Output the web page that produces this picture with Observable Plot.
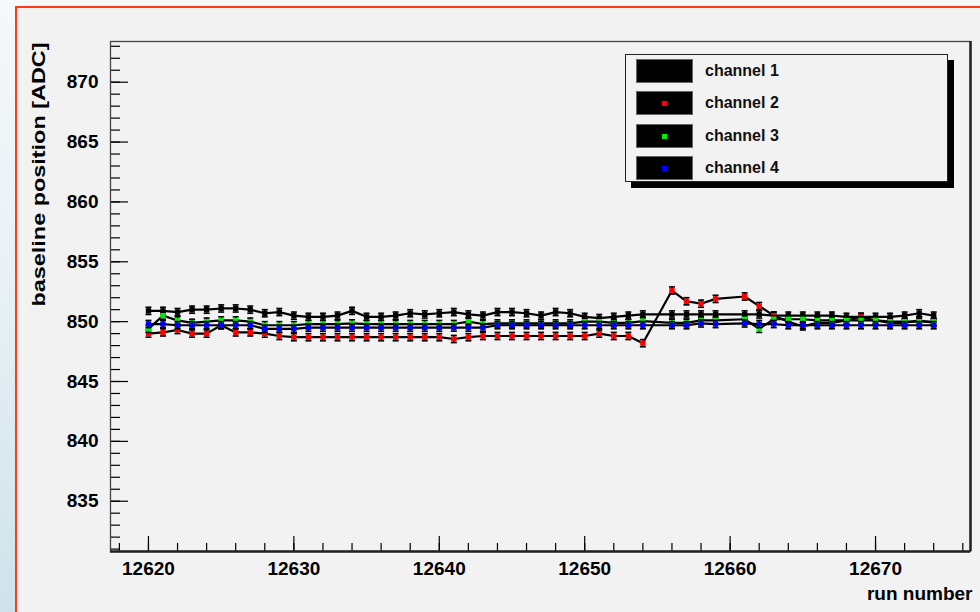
<!DOCTYPE html>
<html>
<head>
<meta charset="utf-8">
<script src="https://cdn.jsdelivr.net/npm/d3@7"></script>
<script src="https://cdn.jsdelivr.net/npm/@observablehq/plot@0.6"></script>
<style>
  html, body { margin: 0; padding: 0; }
  body { width: 980px; height: 612px; overflow: hidden; background: #f2f2f2;
         font-family: "Liberation Sans", Arial, sans-serif; }
  #page { position: relative; width: 980px; height: 612px; }
  #edge { position: absolute; left: 0; top: 0; width: 15px; height: 612px;
          background: linear-gradient(#f6f8fa, #e9f1f5 45%, #cfe2ea); }
  #topedge { position: absolute; left: 0; top: 0; width: 980px; height: 6px; background: #f7f8f9; }
  #border { position: absolute; left: 15px; top: 6px; width: 970px; height: 620px; box-sizing: border-box;
            border-left: 2px solid #ff3a1a; border-top: 2px solid #ff3a1a; }
  #chart { position: absolute; left: 0; top: 0; }
  #legend { position: absolute; left: 625px; top: 54px; width: 323px; height: 128px; box-sizing: border-box;
            border: 1.5px solid #222; background: #f2f2f2; box-shadow: 6px 6px 0 #000; }
  .row { position: absolute; left: 10px; height: 24px; display: flex; align-items: center; }
  .swatch { position: relative; width: 57px; height: 24px; background: #000; box-sizing: border-box;
            border: 1px solid #666; }
  .mk { position: absolute; left: 50%; top: 50%; width: 5px; height: 5px; margin: -2.5px 0 0 -2.5px; }
  .lab { margin-left: 12px; font-size: 16px; font-weight: bold; color: #111; }
  #chart svg text { font-weight: bold; }
</style>
</head>
<body>
<div id="page">
  <div id="edge"></div>
  <div id="topedge"></div>
  <div id="border"></div>
  <div id="chart"></div>
</div>
<script>
// Run numbers (12655 and 12660 have no measurement)
const runs = [
  12620, 12621, 12622, 12623, 12624, 12625, 12626, 12627, 12628, 12629,
  12630, 12631, 12632, 12633, 12634, 12635, 12636, 12637, 12638, 12639,
  12640, 12641, 12642, 12643, 12644, 12645, 12646, 12647, 12648, 12649,
  12650, 12651, 12652, 12653, 12654, 12656, 12657, 12658, 12659,
  12661, 12662, 12663, 12664, 12665, 12666, 12667, 12668, 12669, 12670,
  12671, 12672, 12673, 12674
];

// Baseline position per channel [ADC]
const channel1 = [
  850.9, 850.9, 850.8, 851.0, 851.0, 851.1, 851.1, 851.0, 850.7, 850.8,
  850.5, 850.4, 850.4, 850.5, 850.9, 850.4, 850.4, 850.5, 850.7, 850.6,
  850.7, 850.8, 850.6, 850.5, 850.8, 850.8, 850.7, 850.5, 850.8, 850.7,
  850.4, 850.3, 850.4, 850.5, 850.6, 850.6, 850.6, 850.6, 850.6,
  850.6, 850.6, 850.5, 850.5, 850.5, 850.5, 850.5, 850.4, 850.4, 850.4,
  850.4, 850.5, 850.7, 850.5
];
const channel2 = [
  849.0, 849.1, 849.3, 849.0, 849.0, 849.7, 849.1, 849.1, 849.0, 848.8,
  848.7, 848.7, 848.7, 848.7, 848.7, 848.7, 848.7, 848.7, 848.7, 848.7,
  848.7, 848.55, 848.7, 848.8, 848.8, 848.8, 848.8, 848.8, 848.8, 848.8,
  848.8, 849.0, 848.8, 848.8, 848.2, 852.6, 851.7, 851.5, 851.9,
  852.1, 851.3, 850.5, 850.0, 849.6, 849.9, 849.9, 850.1, 850.4, 850.1,
  849.9, 849.9, 850.1, 849.9
];
const channel3 = [
  849.4, 850.5, 850.1, 849.9, 850.0, 850.1, 850.1, 850.0, 849.7, 849.7,
  849.7, 849.8, 849.8, 849.8, 849.85, 849.8, 849.8, 849.8, 849.8, 849.8,
  849.8, 849.8, 850.0, 849.8, 849.85, 849.85, 849.85, 849.85, 849.85, 849.85,
  850.0, 850.0, 849.9, 849.9, 850.05, 849.9, 849.9, 850.1, 850.1,
  850.2, 849.4, 850.2, 850.2, 850.2, 850.1, 850.1, 850.1, 850.1, 850.1,
  850.0, 850.0, 850.0, 850.0
];
const channel4 = [
  849.8, 849.8, 849.7, 849.7, 849.7, 849.7, 849.7, 849.7, 849.4, 849.4,
  849.4, 849.5, 849.5, 849.5, 849.5, 849.5, 849.5, 849.5, 849.5, 849.5,
  849.5, 849.5, 849.5, 849.5, 849.7, 849.7, 849.7, 849.7, 849.7, 849.7,
  849.7, 849.7, 849.7, 849.7, 849.7, 849.7, 849.7, 849.85, 849.8,
  849.85, 849.8, 849.8, 849.7, 849.7, 849.7, 849.7, 849.7, 849.7, 849.7,
  849.7, 849.7, 849.7, 849.7
];
// Half-width of the error bars [ADC]
const errorHalfWidth = 0.3;

const channelNames = ["channel 1", "channel 2", "channel 3", "channel 4"];
const markerColors = ["#000000", "#ff0000", "#00ee00", "#0000ff"];

const xTicks = [12620, 12630, 12640, 12650, 12660, 12670];
const yTicks = [835, 840, 845, 850, 855, 860, 865, 870];
const xTitle = "run number";
const yTitle = "baseline position [ADC]";

// Frame geometry
const W = 980, H = 612;
const mLeft = 110, mRight = 10, mTop = 41, mBottom = 61;
const plotW = W - mLeft - mRight, plotH = H - mTop - mBottom;
const xDomain = [12617.39, 12676.53];
const yDomain = [830.8, 873.4];

const xMinor = d3.range(12618, 12677, 2);
const yMinor = d3.range(831, 874, 1);

const series = [channel1, channel2, channel3, channel4].map((vals, c) =>
  runs.map((run, i) => ({run, v: vals[i], c}))
);

// Short horizontal stroke used as error-bar cap
const capSymbol = {
  draw(ctx, size) {
    const w = Math.sqrt(size) / 2;
    ctx.moveTo(-w, 0);
    ctx.lineTo(w, 0);
  }
};

const graphMarks = series.flatMap((data, c) => [
  Plot.line(data, {x: "run", y: "v", stroke: "#000", strokeWidth: 2.2}),
  Plot.ruleX(data, {x: "run", y1: d => d.v - errorHalfWidth, y2: d => d.v + errorHalfWidth,
                    stroke: "#000", strokeWidth: 1.6}),
  Plot.dot(data, {x: "run", y: d => d.v + errorHalfWidth, symbol: capSymbol, r: 3.4,
                  stroke: "#000", strokeWidth: 1.6, fill: "none"}),
  Plot.dot(data, {x: "run", y: d => d.v - errorHalfWidth, symbol: capSymbol, r: 3.4,
                  stroke: "#000", strokeWidth: 1.6, fill: "none"}),
  Plot.dot(data, {x: "run", y: "v", symbol: "square", r: 3, fill: markerColors[c], stroke: "none"})
]);

const chart = Plot.plot({
  width: W,
  height: H,
  marginLeft: mLeft,
  marginRight: mRight,
  marginTop: mTop,
  marginBottom: mBottom,
  style: {background: "transparent", fontFamily: "'Liberation Sans', Arial, sans-serif", color: "#000", overflow: "visible"},
  x: {domain: xDomain},
  y: {domain: yDomain},
  marks: [
    // inward-pointing ticks on the bottom and left edges
    Plot.ruleX(xMinor, {x: d => d, insetTop: plotH - 8, stroke: "#000", strokeWidth: 1.2}),
    Plot.ruleX(xTicks, {x: d => d, insetTop: plotH - 15, stroke: "#000", strokeWidth: 1.2}),
    Plot.ruleY(yMinor, {y: d => d, insetRight: plotW - 10, stroke: "#000", strokeWidth: 1.2}),
    Plot.ruleY(yTicks, {y: d => d, insetRight: plotW - 18, stroke: "#000", strokeWidth: 1.2}),
    Plot.axisX(xTicks, {tickSize: 0, tickPadding: 10, fontSize: 19, tickFormat: d => String(d), label: null}),
    Plot.axisY(yTicks, {tickSize: 0, tickPadding: 12, fontSize: 19, tickFormat: d => String(d), label: null}),
    ...graphMarks,
    Plot.frame({stroke: "#444", strokeWidth: 1.3}),
    // heavier right and bottom frame edges
    Plot.ruleX([xDomain[1]], {x: d => d, stroke: "#222", strokeWidth: 2.5}),
    Plot.ruleY([yDomain[0]], {y: d => d, stroke: "#222", strokeWidth: 2.5}),
    Plot.text([yTitle], {frameAnchor: "top-left", text: d => d, rotate: -90, textAnchor: "end",
                         dx: -71, dy: 1, fontSize: 18, lineAnchor: "middle"}),
    Plot.text([xTitle], {frameAnchor: "bottom-right", text: d => d, textAnchor: "end",
                         dx: 2, dy: 48, fontSize: 19})
  ]
});
document.getElementById("chart").appendChild(chart);

// Stretch the rotated axis title along the frame height
d3.select(chart).selectAll("text")
  .filter(function () { return this.textContent === yTitle; })
  .attr("textLength", 264)
  .attr("lengthAdjust", "spacingAndGlyphs");

// Legend box
const legend = d3.select("#page").append("div").attr("id", "legend");
const rowTops = [4, 36, 69, 101];
channelNames.forEach((name, c) => {
  const row = legend.append("div").attr("class", "row").style("top", rowTops[c] + "px");
  const sw = row.append("div").attr("class", "swatch");
  sw.append("div").attr("class", "mk").style("background", markerColors[c]);
  row.append("div").attr("class", "lab").text(name);
});
</script>
</body>
</html>
